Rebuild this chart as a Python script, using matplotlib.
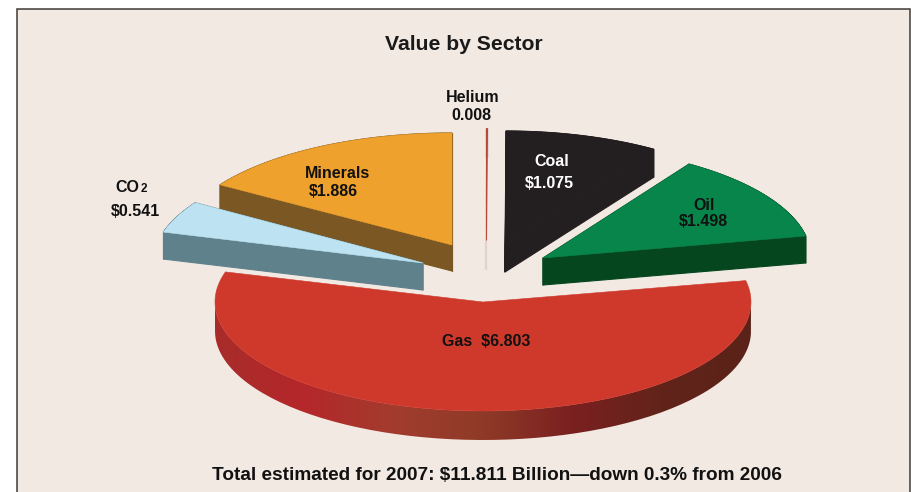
import numpy as np
import matplotlib
matplotlib.use('Agg')
import matplotlib.pyplot as plt
from matplotlib.collections import PolyCollection
from matplotlib.colors import LinearSegmentedColormap
from matplotlib.patches import PathPatch, Polygon, Rectangle
from matplotlib.path import Path

plt.rcParams['font.family'] = ['Liberation Sans', 'DejaVu Sans']

# sector values, clockwise from twelve o'clock
sectors = ['Helium', 'Coal', 'Oil', 'Gas', 'CO2', 'Minerals']
values = [0.008, 1.075, 1.498, 6.803, 0.541, 1.886]
total = 11.811
title = 'Value by Sector'
footer = 'Total estimated for 2007: $11.811 Billion\u2014down 0.3% from 2006'

# wedge tips on the canvas (exploded positions), pixels
tips = {'Helium': (485.5, 240), 'Coal': (505, 244), 'Oil': (543, 258),
        'Gas': (483, 302), 'CO2': (423, 263), 'Minerals': (452, 245)}
radii = {'Helium': (270, 112), 'Coal': (273, 113), 'Oil': (268, 112),
         'Gas': (268, 109), 'CO2': (270, 112), 'Minerals': (275, 112)}
depths = {'Helium': 29, 'Coal': 28, 'Oil': 27, 'Gas': 29, 'CO2': 27, 'Minerals': 26}
top_colors = {'Helium': '#b5483a', 'Coal': '#231f20', 'Oil': '#07854a',
              'Gas': '#cf392c', 'CO2': '#bde3f3', 'Minerals': '#eea12c'}
side_colors = {'Helium': '#e2d2cb', 'Coal': '#231f20', 'Oil': '#05461f',
               'CO2': '#5f818c', 'Minerals': '#7a5723'}
draw_order = ['Gas', 'Minerals', 'CO2', 'Helium', 'Coal', 'Oil']

bg = '#f2e9e3'

gas_ramp = LinearSegmentedColormap.from_list(
    'gas_side', ['#a82c2a', '#b5272b', '#a23c2e', '#8f3a28', '#7a2020', '#62241a', '#5a2218'])

fig = plt.figure(figsize=(9.11, 4.92), dpi=100, facecolor='white')
ax = fig.add_axes([0, 0, 1, 1])
ax.set_axis_off()

ax.add_patch(Rectangle((16.5, 9), 893.5, 500, facecolor=bg, edgecolor='#3f3a37', linewidth=1.1, zorder=0))

# turn values into start/end angles
spans = np.array(values) / total * 360
ends = 90 - np.cumsum(spans)
starts = ends + spans


def arc(name, a0, a1):
    tip, (rad_x, rad_y) = tips[name], radii[name]
    th = np.radians(np.linspace(a0, a1, 120))
    return np.column_stack([tip[0] + rad_x * np.cos(th), tip[1] - rad_y * np.sin(th)])


for layer, name in enumerate(draw_order):
    i = sectors.index(name)
    tip = tips[name]
    drop = [0, depths[name]]
    outline = np.vstack([[tip], arc(name, starts[i], ends[i]), [tip]])
    if name == 'Gas':
        # rim is shaded left to right, so paint it through a clip
        rim_top = arc(name, 180, 360)
        rim = np.vstack([rim_top, (rim_top + drop)[::-1]])
        im = ax.imshow(np.linspace(0, 1, 256).reshape(1, -1), cmap=gas_ramp, aspect='auto',
                       extent=(rim[:, 0].min(), rim[:, 0].max(), rim[:, 1].max(), rim[:, 1].min()),
                       zorder=2, interpolation='bilinear')
        clip = PathPatch(Path(rim), transform=ax.transData, facecolor='none', edgecolor='none')
        ax.add_patch(clip)
        im.set_clip_path(clip)
    else:
        # sweep each outline segment downwards to get the slice's thickness
        quads = [[outline[k], outline[k + 1], outline[k + 1] + drop, outline[k] + drop]
                 for k in range(len(outline) - 1)]
        ax.add_collection(PolyCollection(quads, facecolors=side_colors[name], edgecolors=side_colors[name],
                                         linewidths=0.8, zorder=2 + layer))
    ax.add_patch(Polygon(outline, closed=True, facecolor=top_colors[name], edgecolor=top_colors[name],
                         linewidth=0.7 if name == 'Helium' else 0.4, zorder=2.5 + layer))

ax.set_xlim(0, 911)
ax.set_ylim(492, 0)


def money(name):
    return '$%.3f' % values[sectors.index(name)]


bold = dict(fontweight='bold', ha='center', va='center', zorder=20)
lab = dict(fontsize=11.5, color='#111111', **bold)
ax.text(464, 44, title, fontsize=15.2, color='#1a1a1a', **bold)
ax.text(497, 475, footer, fontsize=13.7, color='#111111', **bold)
ax.text(473, 97, 'Helium', **lab)
ax.text(471, 115, '%.3f' % values[0], **lab)
ax.text(337, 174, 'Minerals', **lab)
ax.text(333, 192, money('Minerals'), **lab)
ax.text(704, 205, 'Oil', **lab)
ax.text(703, 222, money('Oil'), **lab)
ax.text(486, 342, 'Gas  ' + money('Gas'), **lab)
ax.text(127, 188, 'CO', **lab)
ax.text(143.5, 189, '2', fontsize=8.5, color='#111111', **bold)
ax.text(135, 212, money('CO2'), **lab)
ax.text(552, 161, 'Coal', fontsize=11.5, color='white', **bold)
ax.text(549, 183, money('Coal'), fontsize=11.5, color='white', **bold)

fig.savefig('out.png', dpi=100, facecolor='white')
